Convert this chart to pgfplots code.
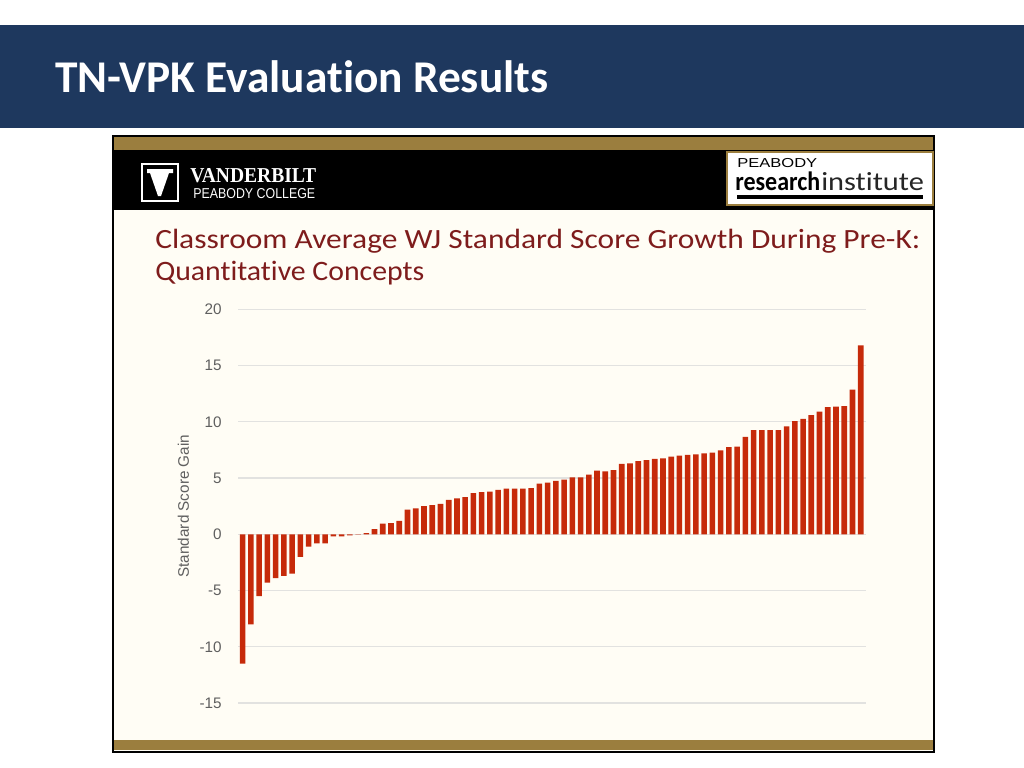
\documentclass[border=0pt]{standalone}
\usepackage{fontspec}
\setmainfont{Liberation Sans}
\newfontfamily\calibri[Ligatures={NoCommon,NoContextual}]{Carlito}
\newfontfamily\timesf{Liberation Serif}
\usepackage{graphicx}
\usepackage{pgfplots}
\usepackage{pgfplotstable}
\pgfplotsset{compat=1.18}

\definecolor{navy}{HTML}{1E385E}
\definecolor{gold}{HTML}{9B7E3E}
\definecolor{cream}{HTML}{FFFDF5}
\definecolor{barred}{HTML}{C62A0A}
\definecolor{maroon}{HTML}{7E1C1C}
\definecolor{ticktxt}{HTML}{5F5F5F}
\definecolor{gridgray}{HTML}{E2E2E0}

% classroom average gains, sorted
\pgfplotstableread{
x y
1 -11.5
2 -8.0
3 -5.5
4 -4.3
5 -3.9
6 -3.7
7 -3.5
8 -2.0
9 -1.1
10 -0.8
11 -0.8
12 -0.18
13 -0.18
14 -0.1
15 -0.03
16 0.1
17 0.45
18 0.95
19 1.0
20 1.2
21 2.2
22 2.3
23 2.5
24 2.6
25 2.7
26 3.05
27 3.2
28 3.3
29 3.65
30 3.75
31 3.8
32 3.95
33 4.05
34 4.05
35 4.05
36 4.1
37 4.5
38 4.6
39 4.75
40 4.85
41 5.05
42 5.05
43 5.3
44 5.65
45 5.6
46 5.7
47 6.25
48 6.3
49 6.5
50 6.6
51 6.7
52 6.75
53 6.9
54 7.0
55 7.05
56 7.1
57 7.2
58 7.25
59 7.45
60 7.75
61 7.8
62 8.65
63 9.25
64 9.25
65 9.25
66 9.25
67 9.6
68 10.05
69 10.25
70 10.6
71 10.9
72 11.3
73 11.35
74 11.4
75 12.85
76 16.8
}\gains

\begin{document}
\begin{tikzpicture}[x=0.75bp,y=-0.75bp]
\useasboundingbox (0,0) rectangle (1024,768);
\fill[white] (0,0) rectangle (1024,768);
% slide title bar
\fill[navy] (0,25) rectangle (1024,128);
\node[anchor=base west, inner sep=0, text=white] at (55,92)
  {\resizebox{369.75bp}{!}{\calibri\bfseries TN-VPK Evaluation Results}};

% embedded chart frame
\fill[cream] (113,136) rectangle (934,752);
\fill[gold] (113,137) rectangle (934,150);
\fill[black] (113,150) rectangle (934,210);
\fill[gold] (113,740) rectangle (934,750);
\draw[black, line width=1.5bp] (113,136) rectangle (934,752);

% Vanderbilt logo
\draw[white, line width=1.2bp] (142,164) rectangle (178,201);
\fill[white] (147,169)--(173,169)--(173,173)--(169,173)--(161,196)--(158,196)--(150,173)--(147,173)--cycle;
\node[anchor=base west, inner sep=0, text=white] at (190,182)
  {\resizebox{94.5bp}{10.5bp}{\timesf\bfseries VANDERBILT}};
\node[anchor=base west, inner sep=0, text=white] at (193,198)
  {\resizebox{91.5bp}{7.5bp}{PEABODY COLLEGE}};

% Peabody Research Institute logo
\fill[white] (727,152) rectangle (933,205);
\draw[gold, line width=2.2bp] (727,152) rectangle (933,205);
\node[anchor=base west, inner sep=0, text=black] at (737,167)
  {\resizebox{60bp}{6.8bp}{PEABODY}};
\node[anchor=base west, inner sep=0, text=black] at (735,190)
  {\resizebox{63.75bp}{14bp}{\calibri\bfseries research}};
\node[anchor=base west, inner sep=0, text=black!85] at (821,190)
  {\resizebox{77bp}{13.5bp}{\calibri institute}};
\fill[black] (737,195) rectangle (923,198.5);

% chart title
\node[anchor=base west, inner sep=0, text=maroon] at (155,248)
  {\resizebox{573.75bp}{14.5bp}{\calibri Classroom Average WJ Standard Score Growth During Pre-K:}};
\node[anchor=base west, inner sep=0, text=maroon] at (155,280)
  {\resizebox{201.75bp}{14.5bp}{\calibri Quantitative Concepts}};

\begin{axis}[
    at={(178.5bp,-527.25bp)}, anchor=south west,
    scale only axis, width=471bp, height=295.3bp,
    ybar, bar width=4.2bp,
    xmin=0.43, xmax=76.64, ymin=-15, ymax=20,
    xtick=\empty, ytick={-15,-10,...,20},
    ymajorgrids, grid style={gridgray, line width=0.9bp},
    axis line style={draw=none}, major tick length=0pt,
    /pgf/number format/assume math mode=true,
    yticklabel style={anchor=east, inner sep=0pt, xshift=-12bp,
        text=ticktxt, font=\fontsize{11.5}{12}\selectfont},
    ylabel={Standard Score Gain},
    ylabel style={at={(axis description cs:-0.087,0.5)}, anchor=center,
        text=ticktxt, font=\fontsize{11.5}{12}\selectfont},
    clip=false
]
\addplot[draw=none, fill=barred] table[x=x, y=y] {\gains};
\end{axis}
\end{tikzpicture}
\end{document}
